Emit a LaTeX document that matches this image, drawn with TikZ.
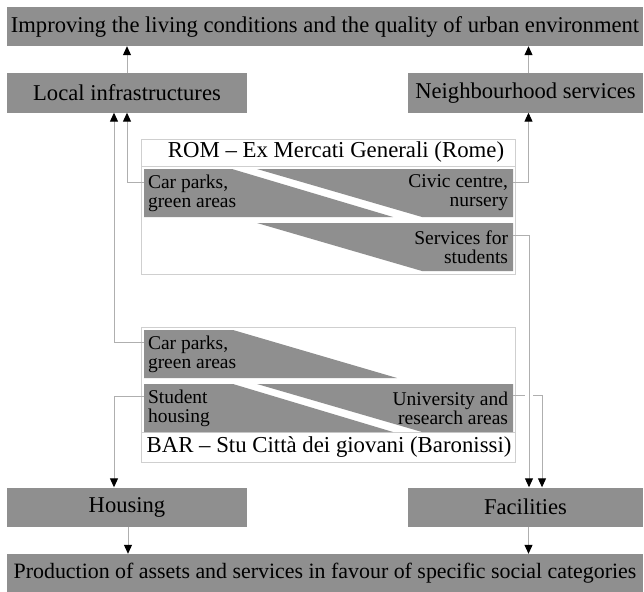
\documentclass[tikz,border=0pt]{standalone}
\usepackage{fontspec}
\setmainfont{Liberation Serif}
\usetikzlibrary{arrows.meta,calc}
\definecolor{boxgray}{RGB}{143,143,143}
\definecolor{linegray}{RGB}{175,175,175}

\begin{document}
\begin{tikzpicture}[x=1pt, y=-1pt, every node/.style={font=\fontsize{22.6}{24}\selectfont, inner sep=0pt}]
  \tikzset{
    bigbox/.style={fill=boxgray, minimum height=39pt},
    frame/.style={draw=linegray!60, fill=white, line width=0.6pt},
    band/.style={minimum width=369pt, minimum height=48pt},
    small/.style={font=\fontsize{19.5}{19}\selectfont},
    title/.style={font=\fontsize{22.8}{24}\selectfont},
    link/.style={draw=linegray, line width=1pt, -{Triangle[color=black,width=8pt,length=9pt]}}
  }
  \useasboundingbox (0,0) rectangle (644,591);
  % goals and outputs
  \node[bigbox, minimum width=636pt] (goal) at (325,26.5) {Improving the living conditions and the quality of urban environment};
  \node[bigbox, minimum width=240pt] (local) at (127,93) {Local infrastructures};
  \node[bigbox, minimum width=235pt] (neigh) at (525.5,93) {Neighbourhood services};
  \node[bigbox, minimum width=240pt] (housing) at (127,507) {Housing};
  \node[bigbox, minimum width=235pt] (facil) at (525.5,507) {Facilities};
  \node[bigbox, minimum width=636pt, font=\fontsize{21.9}{24}\selectfont] (prod) at (325,573.5) {Production of assets and services in favour of specific social categories};
  % the two projects
  \draw[frame] (141,139) rectangle (515,274);
  \draw[linegray!60, line width=0.6pt] (141,166) -- (515,166);
  \draw[frame] (141,327) rectangle (515,462);
  \draw[linegray!60, line width=0.6pt] (141,432) -- (515,432);
  \node[title] (rom) at (336,152.5) {ROM -- Ex Mercati Generali (Rome)};
  \node[title] (bar) at (329,447) {BAR -- Stu Città dei giovani (Baronissi)};
  \node[band] (romA) at (328.5,193) {};
  \node[band] (romB) at (328.5,247) {};
  \node[band] (barA) at (328.5,354) {};
  \node[band] (barB) at (328.5,408) {};
  \fill[boxgray] (144,169) -- (232,169) -- (393,217) -- (144,217) -- cycle;
  \fill[boxgray] (257,169) -- (513,169) -- (513,217) -- (422,217) -- cycle;
  \fill[boxgray] (257,223) -- (513,223) -- (513,271) -- (422,271) -- cycle;
  \fill[boxgray] (144,330) -- (233,330) -- (397,378) -- (144,378) -- cycle;
  \fill[boxgray] (144,384) -- (233,384) -- (393,432) -- (144,432) -- cycle;
  \fill[boxgray] (257,384) -- (513,384) -- (513,432) -- (422,432) -- cycle;
  \node[small, align=left, anchor=west] (romcar) at ([xshift=4pt]romA.west) {Car parks,\\green areas};
  \node[small, align=right, anchor=east] (romciv) at ([xshift=-5pt]romA.east) {Civic centre,\\nursery};
  \node[small, align=right, anchor=east] (romstu) at ([xshift=-5pt]romB.east) {Services for\\students};
  \node[small, align=left, anchor=west] (barcar) at ([xshift=4pt]barA.west) {Car parks,\\green areas};
  \node[small, align=left, anchor=west] (barhou) at ([xshift=4pt]barB.west) {Student\\housing};
  \node[small, align=right, anchor=east] (baruni) at ([xshift=-5pt]barB.east) {University and\\research areas};
  % links
  \draw[link] (local.north) -- (local.north |- goal.south);
  \draw[link] ([xshift=3pt]neigh.north) -- ([xshift=3pt]neigh.north |- goal.south);
  \draw[link] ([yshift=11pt]romA.west) -| (local.south);
  \draw[link] ([yshift=12pt]barA.west) -| ([xshift=-13pt]local.south);
  \draw[link] ([yshift=11pt]romA.east) -| ([xshift=3pt]neigh.south);
  \draw[link] ([yshift=12pt]barB.west) -| ([xshift=-13pt]housing.north);
  \draw[link] ([yshift=13pt]barB.east) -| ([xshift=16.5pt]facil.north);
  \fill[white] (525,391) rectangle (533,399);
  \draw[link] ([yshift=12pt]romB.east) -| ([xshift=3.5pt]facil.north);
  \draw[link] ([xshift=1pt]housing.south) -- ([xshift=1pt]housing.south |- prod.north);
  \draw[link] ([xshift=3pt]facil.south) -- ([xshift=3pt]facil.south |- prod.north);
\end{tikzpicture}
\end{document}
